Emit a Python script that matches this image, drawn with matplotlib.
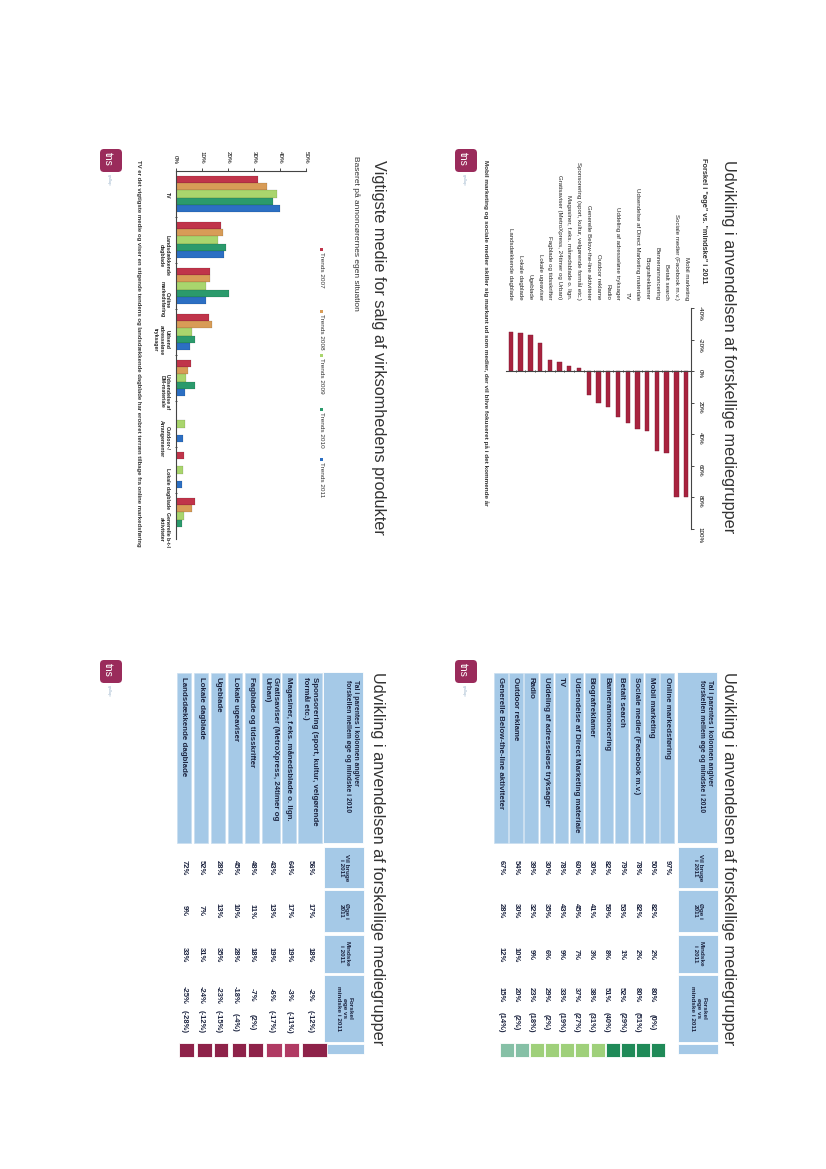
import numpy as np
import matplotlib.pyplot as plt
from matplotlib.patches import Rectangle, FancyBboxPatch

plt.rcParams['font.family'] = ['Liberation Sans', 'DejaVu Sans']

# ---- data ------------------------------------------------------------
# table: media groups that will be used more in 2011
up_rows = ['Online markedsføring', 'Mobil marketing', 'Sociale medier (Facebook m.v.)',
           'Betalt search', 'Bannerannoncering', 'Biografreklamer',
           'Udsendelse af Direct Marketing materiale', 'TV',
           'Uddeling af adresseløse tryksager', 'Radio', 'Outdoor reklame',
           'Generelle Below-the-line aktiviteter']
up_use = [97, 50, 78, 79, 82, 30, 60, 78, 30, 39, 54, 67]
up_more = [None, 82, 82, 53, 59, 41, 45, 43, 35, 32, 30, 28]
up_less = [None, 2, 2, 1, 8, 3, 7, 9, 6, 9, 10, 12]
up_diff = [None, 80, 80, 52, 51, 38, 37, 33, 29, 23, 20, 15]
up_prev = [None, 0, 51, 29, 40, 31, 27, 19, 2, 18, 2, 14]

# table: media groups that will be used less in 2011
down_rows = ['Sponsorering (sport, kultur, velgørende\nformål etc.)',
             'Magasiner, f.eks. månedsblade o. lign.',
             'Gratisaviser (MetroXpress, 24timer og\nUrban)',
             'Fagblade og tidsskrifter', 'Lokale ugeaviser', 'Ugeblade',
             'Lokale dagblade', 'Landsdækkende dagblade']
down_use = [56, 64, 43, 48, 45, 28, 52, 72]
down_more = [17, 17, 13, 11, 10, 13, 7, 9]
down_less = [18, 19, 19, 18, 28, 35, 31, 33]
down_diff = [-2, -3, -6, -7, -18, -23, -24, -25]
down_prev = [-12, -11, -17, 2, -4, -15, -12, -28]

# diverging chart: difference "øge" vs "mindske" 2011
diff_cats = [r.replace('\n', ' ') for r in up_rows[1:] + down_rows]
diff_vals = up_diff[1:] + down_diff

# grouped chart: most important medium for sales
media = ['TV', 'Landsdækkende\ndagblade', 'Online\nmarkedsføring',
         'Udsend\nadresseløse\ntryksager', 'Udsendelse af\nDM-materiale',
         'Outdoor-/\nArrangementer', 'Lokale dagblade', 'Generelle b-t-l\naktiviteter']
trend_names = ['Trends 2007', 'Trends 2008', 'Trends 2009', 'Trends 2010', 'Trends 2011']
trend_2007 = [31.5, 17.5, 13.4, 12.7, 5.9, np.nan, 3.2, 7.4]
trend_2008 = [35.0, 18.3, 13.2, 13.9, 4.6, np.nan, np.nan, 6.4]
trend_2009 = [39.0, 16.4, 11.5, 6.2, 4.2, 3.6, 2.9, 3.2]
trend_2010 = [37.5, 19.5, 20.6, 7.3, 7.4, np.nan, np.nan, 2.4]
trend_2011 = [40.0, 18.5, 11.7, 5.6, 3.6, 2.9, 2.3, np.nan]
trends = [trend_2007, trend_2008, trend_2009, trend_2010, trend_2011]
trend_colors = ['#c0344a', '#d89c57', '#a9d56d', '#2b9a6c', '#2c6fc3']

W, H = 826, 1169
DARK = '#1c2440'
GREY = '#333333'
CELL = '#a5c9e7'

fig = plt.figure(figsize=(W / 100, H / 100), dpi=100)
pg = fig.add_axes([0, 0, 1, 1])
pg.set_xlim(0, W)
pg.set_ylim(H, 0)
pg.axis('off')


def box(x0, y0, x1, y1):
    return [x0 / W, 1 - y1 / H, (x1 - x0) / W, (y1 - y0) / H]


def vtext(x, y, s, size, **kw):
    kw.setdefault('ha', 'left')
    kw.setdefault('va', 'baseline')
    kw.setdefault('color', GREY)
    return pg.text(x, y, s, rotation=-90, rotation_mode='anchor', fontsize=size, **kw)


def logo(x, y):
    pg.add_patch(FancyBboxPatch((x, y), 22, 23, boxstyle='round,pad=0,rounding_size=4',
                                fc='#9a2b5b', ec='none'))
    vtext(x + 8, y + 3, 'tns', 7.5, color='white', va='center')
    vtext(x + 9, y + 25, 'gallup', 3.2, color='#9db5cc', va='center')


# ---- slide 1: diverging bars -----------------------------------------
vtext(724, 160, 'Udvikling i anvendelsen af forskellige mediegrupper', 11.7)
vtext(702, 158, 'Forskel i "øge" vs. "mindske" i 2011', 5.3, weight='bold')
vtext(484, 160, 'Mobil marketing og sociale medier skiller sig markant ud som medier, '
      'der vil blive fokuseret på i det kommende år', 4.6, weight='bold')
logo(455, 149)

ax1 = fig.add_axes(box(506, 308, 691, 528.5))
ax1.patch.set_alpha(0)
idx = np.arange(len(diff_cats))
ax1.bar(idx, diff_vals, width=0.45, color='#a8233f', edgecolor='#7a1930', lw=0.3)
ax1.set_xlim(len(idx) - 0.5, -0.5)
ax1.set_ylim(100, -40)
for s in ['left', 'top']:
    ax1.spines[s].set_visible(False)
ax1.spines['bottom'].set_position(('data', 0))
for s in ['bottom', 'right']:
    ax1.spines[s].set_linewidth(0.8)
    ax1.spines[s].set_color('#444444')
ax1.yaxis.tick_right()
ax1.set_yticks(range(-40, 101, 20))
ax1.set_yticklabels([f'{v}%' for v in range(-40, 101, 20)], rotation=-90, fontsize=4.5)
ax1.tick_params(axis='y', length=2, pad=3, width=0.5)
ax1.set_xticks(idx)
ax1.set_xticklabels(diff_cats, rotation=-90, fontsize=4.4, color='#222222')
ax1.set_xticks(idx[:-1] + 0.5, minor=True)
ax1.tick_params(axis='x', which='major', top=True, bottom=False, labeltop=True,
                labelbottom=False, length=0, pad=6)
ax1.tick_params(axis='x', which='minor', bottom=True, top=False, length=2,
                direction='inout', width=0.5)

# ---- slide 2: grouped bars -------------------------------------------
vtext(374, 160, 'Vigtigste medie for salg af virksomhedens produkter', 11.7)
vtext(354, 156, 'Baseret på annoncørernes egen situation', 6)
vtext(137, 160, 'TV er det vigtigste medie og viser en stigende tendens og landsdækkende '
      'dagblade har erobret terræn tilbage fra online markedsføring', 4.3, weight='bold')
logo(100, 149)

for name, col, ym in zip(trend_names, trend_colors, [249, 311, 355, 409, 459]):
    pg.add_patch(Rectangle((320, ym - 1.5), 3, 3, fc=col, ec='none'))
    vtext(320, ym + 3, name, 4.6)

ax2 = fig.add_axes(box(175.5, 171, 306, 539))
ax2.patch.set_alpha(0)
gi = np.arange(len(media))
bh = 0.153
for k, (vals, col) in enumerate(zip(trends, trend_colors)):
    ax2.barh(gi + (k - 2) * bh, vals, height=bh, color=col, edgecolor='#00000040', lw=0.3)
ax2.set_xlim(0, 50)
ax2.set_ylim(len(media) - 0.5, -0.5)
for s in ['right', 'bottom']:
    ax2.spines[s].set_visible(False)
for s in ['left', 'top']:
    ax2.spines[s].set_linewidth(0.8)
    ax2.spines[s].set_color('#444444')
ax2.xaxis.tick_top()
ax2.set_xticks(range(0, 51, 10))
ax2.set_xticklabels([f'{v}%' for v in range(0, 51, 10)], rotation=-90, fontsize=4.5)
ax2.tick_params(axis='x', length=2, pad=3, width=0.5)
ax2.set_yticks(gi)
ax2.set_yticklabels(media, rotation=-90, fontsize=3.7, weight='bold',
                    multialignment='center', color='#222222')
ax2.set_yticks(gi[:-1] + 0.5, minor=True)
ax2.tick_params(axis='y', which='major', length=0, pad=4)
ax2.tick_params(axis='y', which='minor', length=2, direction='inout', width=0.5)

# ---- slides 3 and 4: tables ------------------------------------------
HEAD = 'Tal i parentes i kolonnen angiver\nforskellen mellem øge og mindske i 2010'
COL_HEADS = ['Vil bruge\ni 2011', 'Øge i\n2011', 'Mindske\ni 2011', 'Forskel\nøge vs\nmindske i 2011', '']
COL_SPANS = [(847, 888), (890, 932), (935, 973), (975, 1042), (1044, 1054)]
COL_Y = [868, 911, 955, 995, 1022]


def pct(v, paren=False):
    if v is None:
        return ''
    return f'({v}%)' if paren else f'{v}%'


def draw_table(hx, row_c, row_h, labels, cols, sq_c, sq_w, sq_cols):
    pg.add_patch(Rectangle((hx, 672), 40, 171, fc=CELL, ec='white', lw=0.6))
    vtext(hx + 36, 680, HEAD, 4.9, weight='bold', va='top', color=DARK)
    for (y0, y1), t in zip(COL_SPANS, COL_HEADS):
        pg.add_patch(Rectangle((hx + 1, y0), 40, y1 - y0, fc=CELL, ec='white', lw=0.6))
        vtext(hx + 21, (y0 + y1) / 2, t, 4.6, weight='bold', ha='center', va='center',
              multialignment='center', color=DARK)
    for c, h, lab in zip(row_c, row_h, labels):
        pg.add_patch(Rectangle((c - h / 2, 673), h, 170, fc=CELL, ec='#c9def0', lw=0.5))
        vtext(c, 677, lab, 5.7, weight='bold', va='center', color=DARK)
    for y, vals, paren in zip(COL_Y, cols, [False] * 4 + [True]):
        for c, v in zip(row_c, vals):
            vtext(c, y, pct(v, paren), 5.5, weight='bold', ha='center', va='center', color=DARK)
    for c, w, col in zip(sq_c, sq_w, sq_cols):
        pg.add_patch(Rectangle((c - w / 2, 1043), w, 14, fc=col, ec='white', lw=0.6))


vtext(724, 672, 'Udvikling i anvendelsen af forskellige mediegrupper', 11.7)
logo(455, 660)
up_c = [667 - 15.1 * i for i in range(len(up_rows))]
draw_table(677, up_c, [13.4] * len(up_rows), up_rows,
           [up_use, up_more, up_less, up_diff, up_prev],
           [c + 6 for c in up_c[1:]], [14] * 11,
           ['#1f8a58'] * 4 + ['#9fd07a'] * 5 + ['#86c0a6'] * 2)

vtext(373, 672, 'Udvikling i anvendelsen af forskellige mediegrupper', 11.7)
logo(100, 660)
down_c = [310, 289, 271, 252, 235, 218, 201, 184]
down_h = [24, 13.4, 18, 13.4, 14, 13.4, 13.4, 13.4]
draw_table(323, down_c, down_h, down_rows,
           [down_use, down_more, down_less, down_diff, down_prev],
           [314.5, 291.5, 274, 255.5, 239, 221, 204.5, 186.5],
           [25, 15, 16, 15, 14, 14, 15, 15],
           ['#8e2249', '#b03a63', '#b03a63'] + ['#8e2249'] * 5)

fig.savefig('out.png', dpi=100)
